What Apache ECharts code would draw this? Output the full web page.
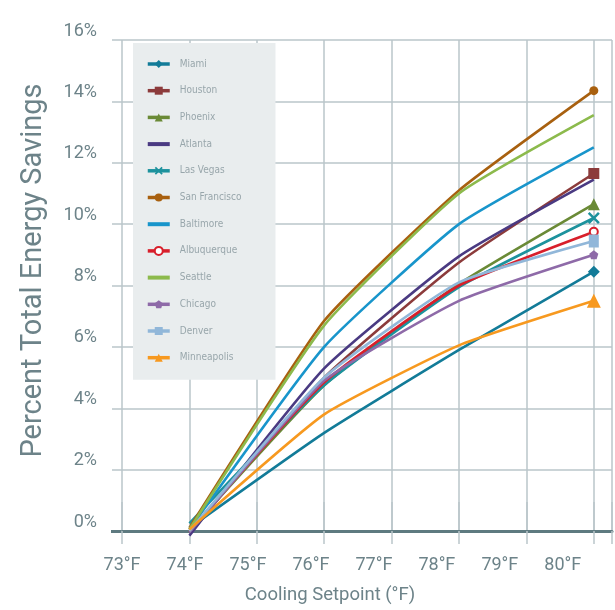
<!DOCTYPE html>
<html><head><meta charset="utf-8">
<script src="https://cdn.jsdelivr.net/npm/echarts@6/dist/echarts.min.js"></script>
<style>html,body{margin:0;padding:0;background:#fff;overflow:hidden}#c{width:615px;height:610px}</style>
</head><body><div id="c"></div>
<script>
const setpoints = [74, 76, 78, 80];
const xTickLabels = ['73°F','74°F','75°F','76°F','77°F','78°F','79°F','80°F'];
const yTickLabels = ['0%','2%','4%','6%','8%','10%','12%','14%','16%'];
const cities = ['Miami','Houston','Phoenix','Atlanta','Las Vegas','San Francisco','Baltimore','Albuquerque','Seattle','Chicago','Denver','Minneapolis'];
const miami        = [0.10, 3.20, 5.90, 8.45];
const houston      = [-0.05, 5.00, 8.75, 11.65];
const phoenix      = [0.00, 4.75, 8.05, 10.65];
const atlanta      = [-0.15, 5.30, 8.95, 11.45];
const lasVegas     = [0.25, 4.75, 7.95, 10.20];
const sanFrancisco = [0.10, 6.85, 11.10, 14.35];
const baltimore    = [0.05, 6.00, 10.00, 12.50];
const albuquerque  = [0.00, 4.85, 8.00, 9.75];
const seattle      = [0.05, 6.70, 11.00, 13.55];
const chicago      = [-0.05, 4.90, 7.50, 9.00];
const denver       = [0.00, 5.00, 8.10, 9.45];
const minneapolis  = [0.05, 3.80, 6.05, 7.50];
const values = [miami,houston,phoenix,atlanta,lasVegas,sanFrancisco,baltimore,albuquerque,seattle,chicago,denver,minneapolis];

const colors = ['#127b98','#8c3b3b','#6a8a36','#4a3a82','#1c929d','#a8600f','#1895cb','#d81f2b','#8cba4c','#8e6aa8','#91b7d9','#f7991f'];
const X_PATH = 'path://M0,1.5 L1.5,0 L5,3.5 L8.5,0 L10,1.5 L6.5,5 L10,8.5 L8.5,10 L5,6.5 L1.5,10 L0,8.5 L3.5,5 Z';
const PENT_PATH = 'path://M5,0 L10,3.8 L8.1,10 L1.9,10 L0,3.8 Z';
const LINE_PATH = 'path://M0,0 L22,0 L22,4 L0,4 Z';
const symbols = ['diamond','rect','triangle','none',X_PATH,'circle','none','emptyCircle','none',PENT_PATH,'rect','triangle'];
const sizes = [12,11,12,0,12,9,0,8,0,9,[10,13],14];

const textColor = '#6d8389';
const gridColor = '#bac6ca';
const fontMain = 'Roboto, "Liberation Sans", sans-serif';

const series = cities.map((name,i)=>({
  name, type:'line', xAxisIndex:0, yAxisIndex:0,
  data: setpoints.map((x,j)=>[x, values[i][j]]),
  smooth: 0.15, clip:false,
  symbol: symbols[i],
  symbolSize: (v,p)=> p.dataIndex===setpoints.length-1 ? sizes[i] : 0,
  showSymbol: symbols[i] !== 'none',
  lineStyle:{color:colors[i], width:2.6},
  itemStyle:{color:colors[i], borderColor:colors[i], borderWidth: symbols[i]==='emptyCircle'?1.5:0},
  emphasis:{disabled:true},
  z: 3
}));

const legendData = cities.map((name,i)=> symbols[i]==='none' ? {name, icon: LINE_PATH} : {name});

const chart = echarts.init(document.getElementById('c'), null, {renderer:'canvas'});
chart.setOption({
  animation:false,
  backgroundColor:'#ffffff',
  color: colors,
  grid:{left:122, right:2, top:40, bottom:77, containLabel:false},
  legend:{
    orient:'vertical', left:133, top:43,
    data: legendData,
    backgroundColor:'#e9edee',
    padding:[16,34,17,13],
    itemWidth:22, itemHeight:10, itemGap:16.7,
    lineStyle:{width:3.5},
    textStyle:{color:'#98a6ab', fontSize:10, fontFamily:'"Liberation Sans Narrow","DejaVu Sans Condensed",sans-serif', padding:[0,0,0,5]},
    selectedMode:false
  },
  xAxis:[
    { type:'value', min:73, max:80.27, interval:1, position:'bottom',
      axisLine:{show:true, onZero:true, lineStyle:{color:'#5e7a80', width:3}},
      axisTick:{show:true, inside:false, length:13, lineStyle:{color:gridColor, width:1.5}},
      axisLabel:{show:false},
      splitLine:{show:true, lineStyle:{color:gridColor, width:1.5}},
      z:1
    },
    { type:'value', min:73, max:73+491/63.1, interval:1, position:'bottom',
      axisLine:{show:false, onZero:false}, axisTick:{show:false}, splitLine:{show:false},
      axisLabel:{show:true, margin:25, color:textColor, fontSize:18, fontFamily:fontMain,
        formatter:(v)=> (Math.abs(v-Math.round(v))<1e-6 && v<=80.001) ? xTickLabels[Math.round(v)-73] : ''},
      name:'Cooling Setpoint (°F)', nameLocation:'middle', nameGap:55,
      nameTextStyle:{color:textColor, fontSize:18.5, fontFamily:fontMain, padding:[0,74,0,0]}
    },
    { type:'value', min:73, max:80.27, interval:1, position:'top',
      axisLine:{show:false}, axisLabel:{show:false}, splitLine:{show:false},
      axisTick:{show:true, inside:false, length:29, lineStyle:{color:gridColor, width:1.5}}
    }
  ],
  yAxis:[
    { type:'value', min:0, max:16, interval:2, position:'left',
      axisLine:{show:false},
      axisTick:{show:true, inside:false, length:10, lineStyle:{color:gridColor, width:1.5}},
      splitLine:{show:true, lineStyle:{color:gridColor, width:1.5}},
      axisLabel:{show:true, margin:25, color:textColor, fontSize:18, fontFamily:fontMain, verticalAlign:'bottom',
        formatter:(v)=> yTickLabels[Math.round(v/2)]},
      name:'Percent Total Energy Savings', nameLocation:'middle', nameGap:74, nameRotate:90,
      nameTextStyle:{color:textColor, fontSize:29, fontFamily:fontMain, padding:[0,0,0,30]}
    },
    { type:'value', min:0, max:16, interval:2, position:'left',
      axisLine:{show:false}, axisLabel:{show:false}, splitLine:{show:false},
      axisTick:{show:true, inside:false, length:11, customValues:[0], lineStyle:{color:'#5e7a80', width:3}}
    }
  ],
  series
});
</script></body></html>
